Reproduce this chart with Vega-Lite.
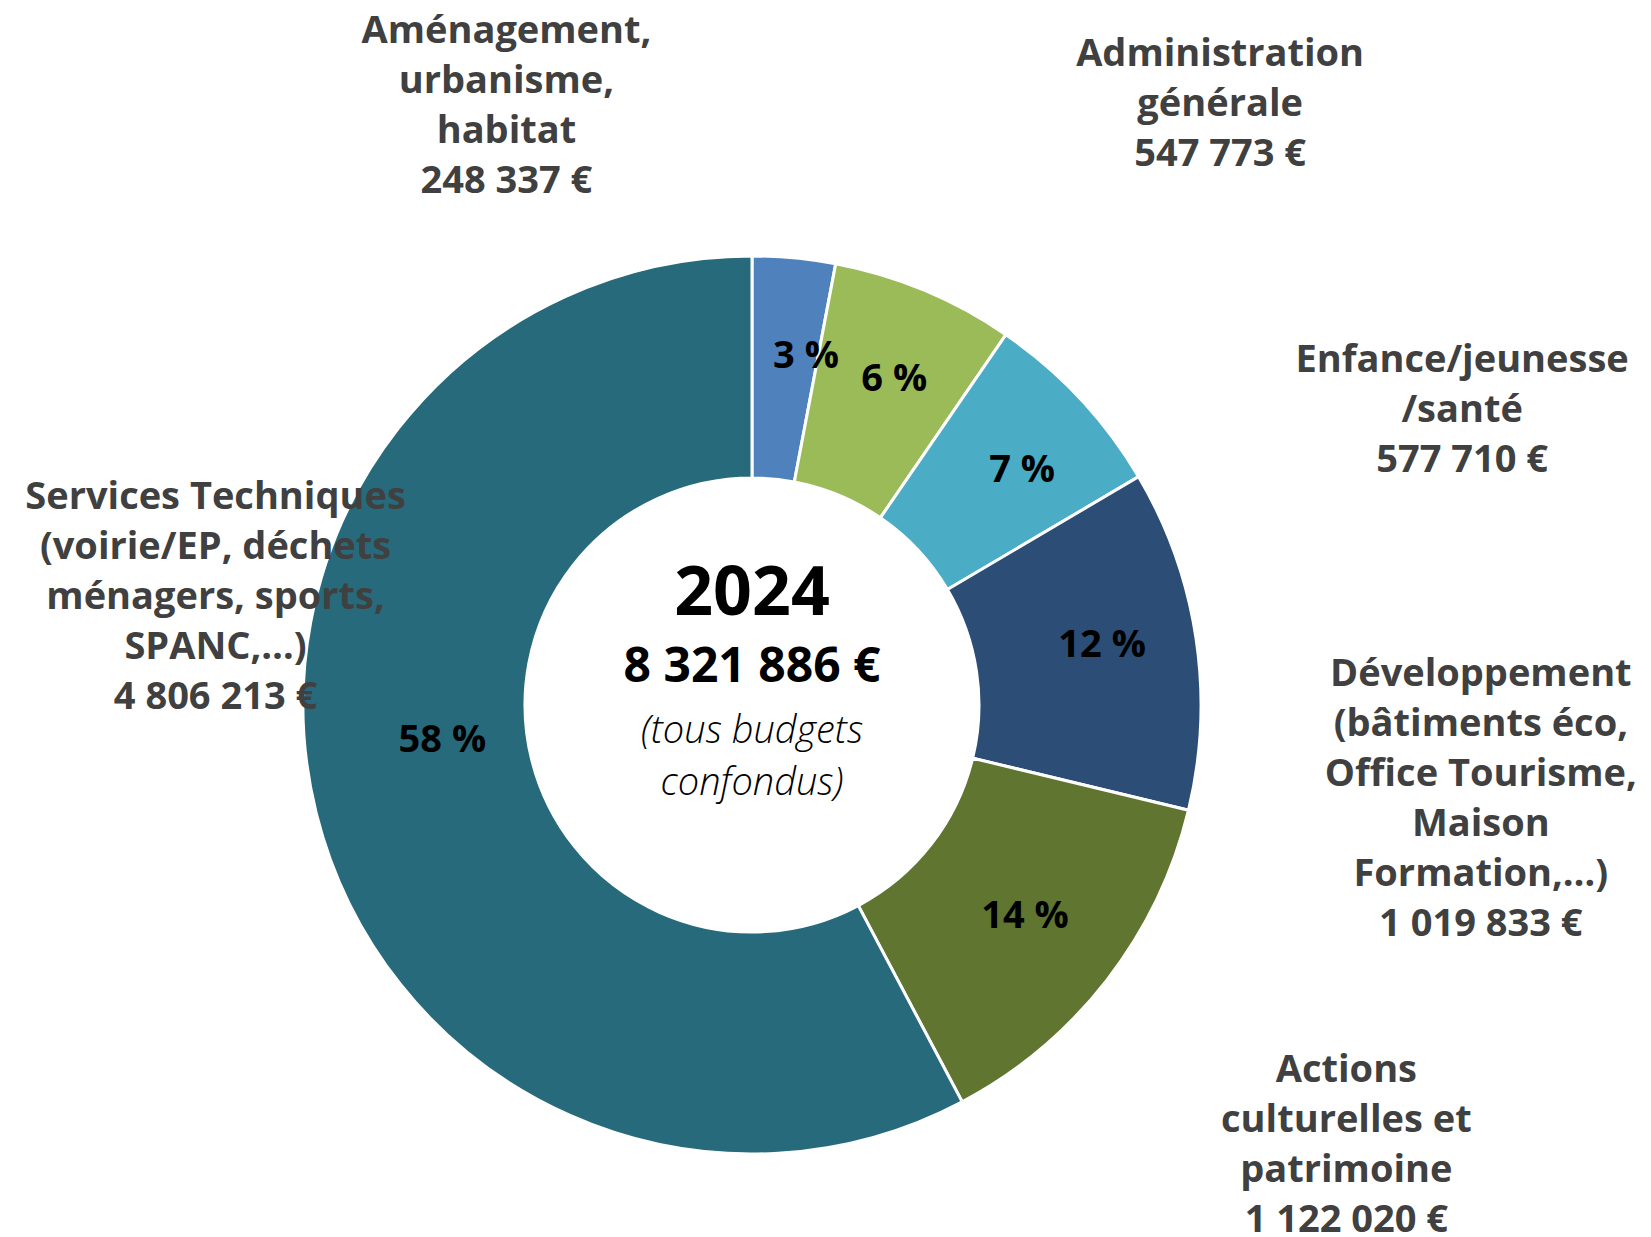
{
  "$schema": "https://vega.github.io/schema/vega-lite/v6.json",
  "autosize": {"type": "none"},
  "padding": {"left": 0, "right": 147, "top": 173, "bottom": 0},
  "width": 1504,
  "height": 1064,
  "background": "white",
  "config": {"view": {"stroke": null}, "text": {"font": "Open Sans", "align": "center", "baseline": "middle"}},
  "datasets": {
    "budget": [
      {"rank": 1, "cat": "Aménagement, urbanisme, habitat", "amount": 248337, "pct": "3 %", "label": "Aménagement,\nurbanisme,\nhabitat\n248 337 €"},
      {"rank": 2, "cat": "Administration générale", "amount": 547773, "pct": "6 %", "label": "Administration\ngénérale\n547 773 €"},
      {"rank": 3, "cat": "Enfance/jeunesse/santé", "amount": 577710, "pct": "7 %", "label": "Enfance/jeunesse\n/santé\n577 710 €"},
      {"rank": 4, "cat": "Développement", "amount": 1019833, "pct": "12 %", "label": "Développement\n(bâtiments éco,\nOffice Tourisme,\nMaison\nFormation,…)\n1 019 833 €"},
      {"rank": 5, "cat": "Actions culturelles et patrimoine", "amount": 1122020, "pct": "14 %", "label": "Actions\nculturelles et\npatrimoine\n1 122 020 €"},
      {"rank": 6, "cat": "Services Techniques", "amount": 4806213, "pct": "58 %", "label": "Services Techniques\n(voirie/EP, déchets\nménagers, sports,\nSPANC,…)\n4 806 213 €"}
    ],
    "centre": [
      {"year": "2024", "total": "8 321 886 €", "note": "(tous budgets\nconfondus)"}
    ]
  },
  "layer": [
    {
      "data": {"name": "budget"},
      "mark": {"type": "arc", "outerRadius": 449, "innerRadius": 227, "stroke": "white", "strokeWidth": 3},
      "encoding": {
        "theta": {"field": "amount", "type": "quantitative", "stack": true},
        "order": {"field": "rank", "type": "quantitative"},
        "color": {"field": "cat", "type": "nominal", "legend": null,
          "scale": {"domain": ["Aménagement, urbanisme, habitat", "Administration générale", "Enfance/jeunesse/santé", "Développement", "Actions culturelles et patrimoine", "Services Techniques"],
                    "range": ["#4F81BD", "#9BBB59", "#4BACC6", "#2C4D75", "#5F7530", "#276A7B"]}}
      }
    },
    {
      "data": {"name": "budget"},
      "mark": {"type": "text", "radius": 352, "dx": 21, "dy": 2, "fontWeight": "bold", "fontSize": 38, "color": "#000000"},
      "encoding": {
        "theta": {"field": "amount", "type": "quantitative", "stack": true},
        "order": {"field": "rank", "type": "quantitative"},
        "detail": {"field": "cat", "type": "nominal"},
        "text": {"condition": {"test": "datum.rank == 1", "field": "pct", "type": "nominal"}, "value": ""}
      }
    },
    {
      "data": {"name": "budget"},
      "mark": {"type": "text", "radius": 352, "dx": 7, "dy": 0, "fontWeight": "bold", "fontSize": 38, "color": "#000000"},
      "encoding": {
        "theta": {"field": "amount", "type": "quantitative", "stack": true},
        "order": {"field": "rank", "type": "quantitative"},
        "detail": {"field": "cat", "type": "nominal"},
        "text": {"condition": {"test": "datum.rank == 2", "field": "pct", "type": "nominal"}, "value": ""}
      }
    },
    {
      "data": {"name": "budget"},
      "mark": {"type": "text", "radius": 352, "dx": 13, "dy": 6, "fontWeight": "bold", "fontSize": 38, "color": "#000000"},
      "encoding": {
        "theta": {"field": "amount", "type": "quantitative", "stack": true},
        "order": {"field": "rank", "type": "quantitative"},
        "detail": {"field": "cat", "type": "nominal"},
        "text": {"condition": {"test": "datum.rank == 3", "field": "pct", "type": "nominal"}, "value": ""}
      }
    },
    {
      "data": {"name": "budget"},
      "mark": {"type": "text", "radius": 352, "dx": 2, "dy": -7, "fontWeight": "bold", "fontSize": 38, "color": "#000000"},
      "encoding": {
        "theta": {"field": "amount", "type": "quantitative", "stack": true},
        "order": {"field": "rank", "type": "quantitative"},
        "detail": {"field": "cat", "type": "nominal"},
        "text": {"condition": {"test": "datum.rank == 4", "field": "pct", "type": "nominal"}, "value": ""}
      }
    },
    {
      "data": {"name": "budget"},
      "mark": {"type": "text", "radius": 352, "dx": -5, "dy": -4, "fontWeight": "bold", "fontSize": 38, "color": "#000000"},
      "encoding": {
        "theta": {"field": "amount", "type": "quantitative", "stack": true},
        "order": {"field": "rank", "type": "quantitative"},
        "detail": {"field": "cat", "type": "nominal"},
        "text": {"condition": {"test": "datum.rank == 5", "field": "pct", "type": "nominal"}, "value": ""}
      }
    },
    {
      "data": {"name": "budget"},
      "mark": {"type": "text", "radius": 352, "dx": 32, "dy": -49, "fontWeight": "bold", "fontSize": 38, "color": "#000000"},
      "encoding": {
        "theta": {"field": "amount", "type": "quantitative", "stack": true},
        "order": {"field": "rank", "type": "quantitative"},
        "detail": {"field": "cat", "type": "nominal"},
        "text": {"condition": {"test": "datum.rank == 6", "field": "pct", "type": "nominal"}, "value": ""}
      }
    },
    {
      "data": {"name": "budget"},
      "mark": {"type": "text", "radius": 560, "dx": -298, "dy": -115, "lineBreak": "\n", "lineHeight": 50, "fontWeight": "bold", "fontSize": 38, "color": "#404040"},
      "encoding": {
        "theta": {"field": "amount", "type": "quantitative", "stack": true},
        "order": {"field": "rank", "type": "quantitative"},
        "detail": {"field": "cat", "type": "nominal"},
        "text": {"condition": {"test": "datum.rank == 1", "field": "label", "type": "nominal"}, "value": ""}
      }
    },
    {
      "data": {"name": "budget"},
      "mark": {"type": "text", "radius": 560, "dx": 253, "dy": -133, "lineBreak": "\n", "lineHeight": 50, "fontWeight": "bold", "fontSize": 38, "color": "#404040"},
      "encoding": {
        "theta": {"field": "amount", "type": "quantitative", "stack": true},
        "order": {"field": "rank", "type": "quantitative"},
        "detail": {"field": "cat", "type": "nominal"},
        "text": {"condition": {"test": "datum.rank == 2", "field": "label", "type": "nominal"}, "value": ""}
      }
    },
    {
      "data": {"name": "budget"},
      "mark": {"type": "text", "radius": 560, "dx": 301, "dy": 38, "lineBreak": "\n", "lineHeight": 50, "fontWeight": "bold", "fontSize": 38, "color": "#404040"},
      "encoding": {
        "theta": {"field": "amount", "type": "quantitative", "stack": true},
        "order": {"field": "rank", "type": "quantitative"},
        "detail": {"field": "cat", "type": "nominal"},
        "text": {"condition": {"test": "datum.rank == 3", "field": "label", "type": "nominal"}, "value": ""}
      }
    },
    {
      "data": {"name": "budget"},
      "mark": {"type": "text", "radius": 560, "dx": 175, "dy": 53, "lineBreak": "\n", "lineHeight": 50, "fontWeight": "bold", "fontSize": 38, "color": "#404040"},
      "encoding": {
        "theta": {"field": "amount", "type": "quantitative", "stack": true},
        "order": {"field": "rank", "type": "quantitative"},
        "detail": {"field": "cat", "type": "nominal"},
        "text": {"condition": {"test": "datum.rank == 4", "field": "label", "type": "nominal"}, "value": ""}
      }
    },
    {
      "data": {"name": "budget"},
      "mark": {"type": "text", "radius": 560, "dx": 152, "dy": 23, "lineBreak": "\n", "lineHeight": 50, "fontWeight": "bold", "fontSize": 38, "color": "#404040"},
      "encoding": {
        "theta": {"field": "amount", "type": "quantitative", "stack": true},
        "order": {"field": "rank", "type": "quantitative"},
        "detail": {"field": "cat", "type": "nominal"},
        "text": {"condition": {"test": "datum.rank == 5", "field": "label", "type": "nominal"}, "value": ""}
      }
    },
    {
      "data": {"name": "budget"},
      "mark": {"type": "text", "radius": 560, "dx": 7, "dy": -342, "lineBreak": "\n", "lineHeight": 50, "fontWeight": "bold", "fontSize": 38, "color": "#404040"},
      "encoding": {
        "theta": {"field": "amount", "type": "quantitative", "stack": true},
        "order": {"field": "rank", "type": "quantitative"},
        "detail": {"field": "cat", "type": "nominal"},
        "text": {"condition": {"test": "datum.rank == 6", "field": "label", "type": "nominal"}, "value": ""}
      }
    },
    {
      "data": {"name": "centre"},
      "mark": {"type": "text", "dy": -110, "fontWeight": "bold", "fontSize": 68, "color": "#000000"},
      "encoding": {"text": {"field": "year", "type": "nominal"}}
    },
    {
      "data": {"name": "centre"},
      "mark": {"type": "text", "dy": -37, "fontWeight": "bold", "fontSize": 48, "color": "#000000"},
      "encoding": {"text": {"field": "total", "type": "nominal"}}
    },
    {
      "data": {"name": "centre"},
      "mark": {"type": "text", "dy": 27, "lineBreak": "\n", "lineHeight": 52, "fontWeight": 300, "fontStyle": "italic", "fontSize": 38, "color": "#000000"},
      "encoding": {"text": {"field": "note", "type": "nominal"}}
    }
  ]
}
